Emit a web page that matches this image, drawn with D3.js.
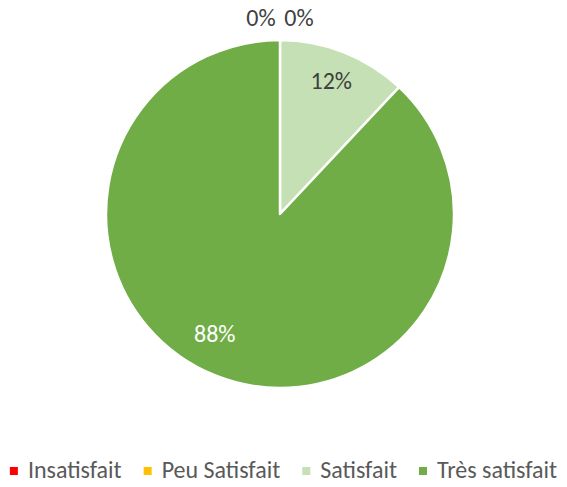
<!DOCTYPE html>
<html>

<head>
  <meta charset='utf-8'>
  <script src="https://cdn.jsdelivr.net/npm/d3@7/dist/d3.min.js"></script>
  <style type="text/css">
    body {
      margin: 0;
      background: #fff;
    }

    text {
      font-family: Carlito, "Open Sans", sans-serif;
    }
  </style>
</head>

<body>
  <script>
    let categories = ['Insatisfait', 'Peu Satisfait', 'Satisfait', 'Très satisfait']
    let values = [0, 0, 12, 88]
    let colors = ['#FF0000', '#FFC000', '#C5E0B4', '#70AD47']

    let w = 567
    let h = 487
    let cx = 280
    let cy = 214
    let r = 174

    let svg = d3.select('body')
      .append('svg')
      .attr('width', w)
      .attr('height', h)

    let data = categories.map((c, i) => ({ name: c, value: values[i], color: colors[i] }))

    let pie = d3.pie()
      .sort(null)
      .value(d => d.value)

    let arcs = pie(data)

    let arc = d3.arc()
      .innerRadius(0)
      .outerRadius(r)

    let labelArc = d3.arc()
      .innerRadius(r * 0.8)
      .outerRadius(r * 0.8)

    let g = svg.append('g')
      .attr('transform', 'translate(' + cx + ',' + cy + ')')

    g.selectAll('path')
      .data(arcs)
      .enter()
      .append('path')
      .attr('d', arc)
      .attr('fill', d => d.data.color)
      .attr('stroke', '#fff')
      .attr('stroke-width', 2.5)
      .attr('stroke-linejoin', 'round')

    let fmt = d3.format('.0%')
    let total = d3.sum(values)
    //zero slices get their labels pushed outside, one to each side
    let zeroIdx = 0
    g.selectAll('.lbl')
      .data(arcs)
      .enter()
      .append('text')
      .attr('class', 'lbl')
      .attr('text-anchor', 'middle')
      .attr('font-size', 24)
      .attr('fill', d => d.data.value > 50 ? '#fff' : '#404040')
      .attr('x', d => {
        if (d.data.value == 0) {
          let side = zeroIdx++ == 0 ? -1 : 1
          return side * 19
        }
        let c = labelArc.centroid(d)
        return d.data.value > 50 ? c[0] - 14 : c[0]
      })
      .attr('y', d => {
        if (d.data.value == 0) return -r - 14
        let c = labelArc.centroid(d)
        return d.data.value > 50 ? c[1] - 1 : c[1] + 4
      })
      .text(d => fmt(d.data.value / total))

    //legend
    let legend = svg.append('g')
    let items = legend.selectAll('g')
      .data(data)
      .enter()
      .append('g')

    items.append('rect')
      .attr('width', 8)
      .attr('height', 8)
      .attr('y', -11)
      .attr('fill', d => d.color)

    items.append('text')
      .attr('x', 18)
      .attr('font-size', 24)
      .attr('fill', '#595959')
      .text(d => d.name)

    let xs = 0
    let gap = 22
    items.each(function () {
      let tw = d3.select(this).select('text').node().getComputedTextLength()
      d3.select(this).attr('transform', 'translate(' + xs + ',0)')
      xs += 18 + tw + gap
    })
    xs -= gap
    legend.attr('transform', 'translate(' + ((w - xs) / 2) + ',478)')
  </script>
</body>

</html>
